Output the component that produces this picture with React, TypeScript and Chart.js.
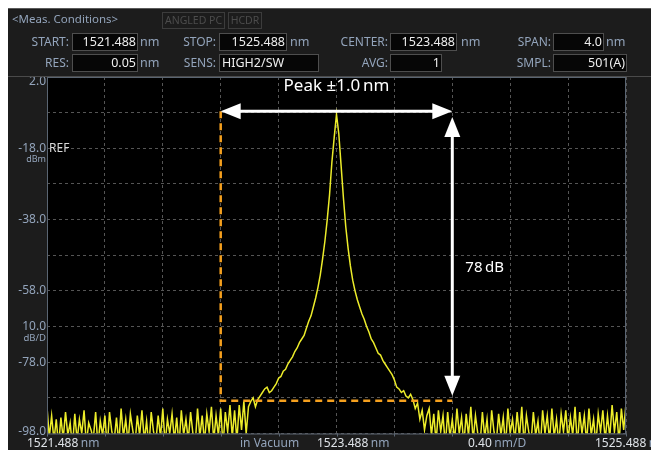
import React, { useEffect, useRef } from 'react';
import { Chart, registerables } from 'chart.js';

Chart.register(...registerables);

const START_NM = 1521.488;
const STOP_NM = 1525.488;
const CENTER_NM = 1523.488;

const X_GRID = [1521.488, 1521.888, 1522.288, 1522.688, 1523.088, 1523.488, 1523.888, 1524.288, 1524.688, 1525.088, 1525.488];
const Y_GRID = [2, -8, -18, -28, -38, -48, -58, -68, -78, -88, -98];
const Y_LABELS = [2, -18, -38, -58, -78, -98];

// trace levels (dBm), 251 samples across the span
const NOISE_LEFT = [
  -90.5, -99, -93, -100, -94, -101.5, -93.5, -99.5, -92, -98.5,
  -95, -102, -92.5, -100, -94, -98, -91.5, -101, -95, -97,
  -99.5, -92, -101.5, -94.5, -98.5, -93, -102, -92, -97.5, -100,
  -93.5, -101, -91, -99, -94, -100.5, -92.5, -97, -101, -93,
  -98.5, -91.5, -100, -94.5, -102, -92, -97.5, -100.5, -93, -99,
  -91, -101, -94, -98, -92.5, -100, -93.5, -101.5, -91.5, -98.5,
  -94, -100, -92, -98, -101, -91, -99, -93, -100.5, -92.5,
  -97.5, -90.5, -100, -93, -98.5, -91, -101.5, -92, -97.5, -90,
  -99, -91.5, -100, -90, -97, -89, -98, -90.5,
];
const PEAK = [
  -89, -88, -90.5, -88.5, -87.5, -86.5, -85.5, -85, -86.5, -86,
  -85, -84, -82.5, -82, -80.5, -80, -78.5, -77.5, -76.5, -75,
  -74, -72.5, -71.5, -70.5, -68.5, -66.5, -65, -62.5, -60, -57,
  -53.5, -49, -44, -38, -31, -22, -15, -8.5, -14, -23,
  -32, -40, -46, -51, -55, -58, -60.5, -62.5, -64.5, -66,
  -68, -69.5, -71.5, -72.5, -74, -75.5, -76, -77.5, -78.5, -79.5,
  -80.5, -81.5, -83, -85, -85.5, -86.5, -86, -87.5, -88, -87,
  -88.5, -91, -89.5, -94, -91.5, -97, -93,
];
const NOISE_RIGHT = [
  -91, -98.5, -92.5, -100.5, -91.5, -97.5, -93, -101.5, -92, -99,
  -94, -100, -91, -98, -93.5, -101, -92.5, -98.5, -90.5, -100,
  -93, -98, -101, -92, -99, -94, -102, -91.5, -97.5, -100.5,
  -92.5, -98.5, -93.5, -101.5, -91, -98, -94, -100, -92, -99,
  -90.5, -101, -93, -97.5, -100.5, -92, -98.5, -94.5, -102, -91.5,
  -98, -93, -100, -91, -99, -94, -101, -92.5, -97.5, -91.5,
  -100, -93.5, -98.5, -90.5, -101.5, -92, -98, -93, -100.5, -91,
  -98.5, -94, -101, -92.5, -97.5, -91.5, -100, -93, -99, -90,
  -97.5, -92, -100.5, -91, -97, -89.5,
];
const LEVELS = [...NOISE_LEFT, ...PEAK, ...NOISE_RIGHT];

// annotation anchors (data units)
const BOX_LEFT = 1522.688;
const BOX_RIGHT = 1524.288;
const ARROW_LEVEL = -7.6;
const FLOOR_LEVEL = -88.8;
const V_ARROW_TOP = -9.2;
const V_ARROW_BOTTOM = -87.4;
const PEAK_TEXT = 'Peak \u00b11.0\u2009nm';
const DB_TEXT = '78\u2009dB';

const FONT = '"Noto Sans", sans-serif';
const LABEL_COLOR = '#93a4bb';
const VALUE_COLOR = '#eeeeee';

const CANVAS_W = 652;
const CANVAS_H = 442;

function arrowHead(ctx: CanvasRenderingContext2D, tx: number, ty: number, dx: number, dy: number) {
  const len = 20, half = 8;
  const bx = tx - dx * len, by = ty - dy * len;
  ctx.beginPath();
  ctx.moveTo(tx, ty);
  ctx.lineTo(bx - dy * half, by + dx * half);
  ctx.lineTo(bx + dy * half, by - dx * half);
  ctx.closePath();
  ctx.fill();
}

const overlay = {
  id: 'overlay',
  beforeDraw(chart: any) {
    const { ctx, chartArea: a } = chart;
    ctx.save();
    ctx.fillStyle = '#000000';
    ctx.fillRect(a.left, a.top, a.right - a.left, a.bottom - a.top);
    ctx.restore();
  },
  afterDatasetsDraw(chart: any) {
    const { ctx } = chart;
    const xs = chart.scales.x, ys = chart.scales.y;
    const xl = xs.getPixelForValue(BOX_LEFT);
    const xr = xs.getPixelForValue(BOX_RIGHT);
    const ya = ys.getPixelForValue(ARROW_LEVEL);
    const yf = ys.getPixelForValue(FLOOR_LEVEL);
    ctx.save();
    // orange dashed box
    ctx.strokeStyle = '#f5a01e';
    ctx.lineWidth = 2.5;
    ctx.setLineDash([7, 5]);
    ctx.beginPath();
    ctx.moveTo(xl, ya);
    ctx.lineTo(xl, yf);
    ctx.lineTo(xr, yf);
    ctx.stroke();
    ctx.setLineDash([]);
    // white arrows
    ctx.strokeStyle = '#ffffff';
    ctx.fillStyle = '#ffffff';
    ctx.lineWidth = 3;
    ctx.beginPath();
    ctx.moveTo(xl + 15, ya);
    ctx.lineTo(xr - 15, ya);
    ctx.stroke();
    arrowHead(ctx, xl, ya, -1, 0);
    arrowHead(ctx, xr, ya, 1, 0);
    const yt = ys.getPixelForValue(V_ARROW_TOP);
    const yb = ys.getPixelForValue(V_ARROW_BOTTOM);
    ctx.beginPath();
    ctx.moveTo(xr, yt + 15);
    ctx.lineTo(xr, yb - 15);
    ctx.stroke();
    arrowHead(ctx, xr, yt, 0, -1);
    arrowHead(ctx, xr, yb, 0, 1);
    // texts
    ctx.textBaseline = 'middle';
    ctx.font = `17px ${FONT}`;
    ctx.textAlign = 'center';
    ctx.fillText(PEAK_TEXT, xs.getPixelForValue(CENTER_NM), ys.getPixelForValue(-0.6));
    ctx.font = `15px ${FONT}`;
    ctx.textAlign = 'left';
    ctx.fillText(DB_TEXT, xr + 13, ys.getPixelForValue(-51.5));
    ctx.restore();
  },
  afterDraw(chart: any) {
    const { ctx, chartArea: a } = chart;
    const xs = chart.scales.x, ys = chart.scales.y;
    ctx.save();
    // frame
    ctx.strokeStyle = '#5a6572';
    ctx.lineWidth = 1;
    ctx.strokeRect(a.left + 0.5, a.top + 0.5, a.right - a.left - 1, a.bottom - a.top);
    // bottom tick marks
    ctx.beginPath();
    X_GRID.forEach((v) => {
      const px = Math.round(xs.getPixelForValue(v)) + 0.5;
      ctx.moveTo(px, a.bottom);
      ctx.lineTo(px, a.bottom + 3);
    });
    ctx.stroke();
    // y labels
    ctx.textBaseline = 'middle';
    ctx.textAlign = 'right';
    ctx.font = `12px ${FONT}`;
    ctx.fillStyle = LABEL_COLOR;
    Y_LABELS.forEach((v) => {
      let py = ys.getPixelForValue(v);
      py = Math.min(Math.max(py, a.top + 5), a.bottom - 2);
      ctx.fillText(v.toFixed(1), a.left - 1, py);
    });
    const yRef = ys.getPixelForValue(-18);
    ctx.font = `9px ${FONT}`;
    ctx.fillText('dBm', a.left - 1, yRef + 11);
    const yDiv = ys.getPixelForValue(-68);
    ctx.font = `12px ${FONT}`;
    ctx.fillText('10.0', a.left - 1, yDiv);
    ctx.font = `9.5px ${FONT}`;
    ctx.fillText('dB/D', a.left - 1, yDiv + 12);
    ctx.textAlign = 'left';
    ctx.font = `12px ${FONT}`;
    ctx.fillStyle = '#d8d8d8';
    ctx.fillText('REF', a.left + 2, yRef);
    // x labels
    const yl = a.bottom + 10;
    const pair = (num: string, unit: string, x: number) => {
      ctx.font = `12px ${FONT}`;
      ctx.fillStyle = '#dfe3e8';
      ctx.fillText(num, x, yl);
      const w = ctx.measureText(num).width;
      ctx.fillStyle = LABEL_COLOR;
      ctx.fillText(unit, x + w + 2.5, yl);
    };
    const xc = xs.getPixelForValue(CENTER_NM);
    pair(START_NM.toFixed(3), 'nm', a.left - 20);
    ctx.fillStyle = LABEL_COLOR;
    ctx.fillText('in Vacuum', xc - 96.5, yl);
    pair(CENTER_NM.toFixed(3), 'nm', xc - 19.5);
    pair('0.40', 'nm/D', xc + 131.5);
    pair(STOP_NM.toFixed(3), 'nm', a.right - 31);
    ctx.restore();
  },
};

function Label({ x, y, text }: { x: number; y: number; text: string }) {
  return (
    <div style={{ position: 'absolute', left: x - 200, top: y, width: 199, height: 18, lineHeight: '18px', textAlign: 'right', color: LABEL_COLOR, fontSize: 12, whiteSpace: 'nowrap' }}>{text}</div>
  );
}

function Box({ x, y, w, text, align = 'right' }: { x: number; y: number; w: number; text: string; align?: 'left' | 'right' }) {
  return (
    <div style={{ position: 'absolute', left: x, top: y, width: w, height: 18, boxSizing: 'border-box', border: '1px solid #4e4e4e', background: '#060606', color: VALUE_COLOR, fontSize: 12.5, lineHeight: '16px', textAlign: align, padding: '0 1px 0 2px', whiteSpace: 'nowrap', overflow: 'hidden' }}>{text}</div>
  );
}

function Unit({ x, y }: { x: number; y: number }) {
  return (
    <div style={{ position: 'absolute', left: x, top: y, height: 18, lineHeight: '18px', color: LABEL_COLOR, fontSize: 12.5 }}>nm</div>
  );
}

function Chip({ x, w, text }: { x: number; w: number; text: string }) {
  return (
    <div style={{ position: 'absolute', left: x, top: 4, width: w, height: 17, boxSizing: 'border-box', border: '1px solid #3c3c3c', color: '#4c4c4c', fontSize: 10.5, lineHeight: '15px', textAlign: 'center', whiteSpace: 'nowrap', overflow: 'hidden' }}>{text}</div>
  );
}

export default function App() {
  const ref = useRef<HTMLCanvasElement | null>(null);

  useEffect(() => {
    document.body.style.overflow = 'hidden';
    const canvas = ref.current;
    if (!canvas) return;
    const step = (STOP_NM - START_NM) / (LEVELS.length - 1);
    const points = LEVELS.map((v, i) => ({ x: START_NM + i * step, y: v }));
    const chart = new Chart(canvas, {
      type: 'line',
      data: {
        datasets: [
          {
            data: points,
            borderColor: '#ecec2a',
            borderWidth: 1.5,
            pointRadius: 0,
            tension: 0,
            fill: false,
          },
        ],
      },
      options: {
        animation: false,
        responsive: false,
        maintainAspectRatio: false,
        events: [],
        layout: { padding: { left: 39, top: 69, right: CANVAS_W - 618, bottom: CANVAS_H - 425.5 } },
        plugins: { legend: { display: false }, tooltip: { enabled: false } },
        scales: {
          x: {
            type: 'linear',
            min: START_NM,
            max: STOP_NM,
            afterBuildTicks: (s: any) => {
              s.ticks = X_GRID.map((v) => ({ value: v }));
            },
            ticks: { display: false },
            grid: { color: '#555555', lineWidth: 1, drawTicks: false, borderDash: [3, 3] } as any,
            border: { display: false, dash: [3, 3] },
          },
          y: {
            type: 'linear',
            min: -98,
            max: 2,
            afterBuildTicks: (s: any) => {
              s.ticks = Y_GRID.map((v) => ({ value: v }));
            },
            ticks: { display: false },
            grid: { color: '#555555', lineWidth: 1, drawTicks: false, borderDash: [3, 3] } as any,
            border: { display: false, dash: [3, 3] },
          },
        },
      },
      plugins: [overlay],
    });
    return () => chart.destroy();
  }, []);

  return (
    <div style={{ position: 'relative', width: 660, height: 442, background: '#1c1c1c', overflow: 'hidden', fontFamily: FONT }}>
      <canvas ref={ref} width={CANVAS_W} height={CANVAS_H} style={{ position: 'absolute', left: 0, top: 0, width: CANVAS_W, height: CANVAS_H }} />
      <div style={{ position: 'absolute', left: 0, top: 0, width: 660, height: 1, background: '#5a5a5a' }} />
      <div style={{ position: 'absolute', left: 0, top: 68, width: 660, height: 1, background: '#4a4a4a' }} />
      <div style={{ position: 'absolute', left: 4, top: 3, height: 16, lineHeight: '16px', color: LABEL_COLOR, fontSize: 11.5, whiteSpace: 'nowrap' }}>{'<Meas. Conditions>'}</div>
      <Chip x={154} w={63} text="ANGLED PC" />
      <Chip x={220} w={34} text="HCDR" />
      <Label x={62} y={25} text="START:" />
      <Box x={64} y={25} w={66} text="1521.488" />
      <Unit x={132} y={25} />
      <Label x={209} y={25} text="STOP:" />
      <Box x={211} y={25} w={68} text="1525.488" />
      <Unit x={282} y={25} />
      <Label x={381} y={25} text="CENTER:" />
      <Box x={382} y={25} w={67} text="1523.488" />
      <Unit x={453} y={25} />
      <Label x={544} y={25} text="SPAN:" />
      <Box x={545} y={25} w={51} text="4.0" />
      <Unit x={598} y={25} />
      <Label x={62} y={46} text="RES:" />
      <Box x={64} y={46} w={66} text="0.05" />
      <Unit x={132} y={46} />
      <Label x={209} y={46} text="SENS:" />
      <Box x={211} y={46} w={100} text="HIGH2/SW" align="left" />
      <Label x={381} y={46} text="AVG:" />
      <Box x={382} y={46} w={52} text="1" />
      <Label x={544} y={46} text="SMPL:" />
      <Box x={545} y={46} w={74} text="501(A)" />
    </div>
  );
}
